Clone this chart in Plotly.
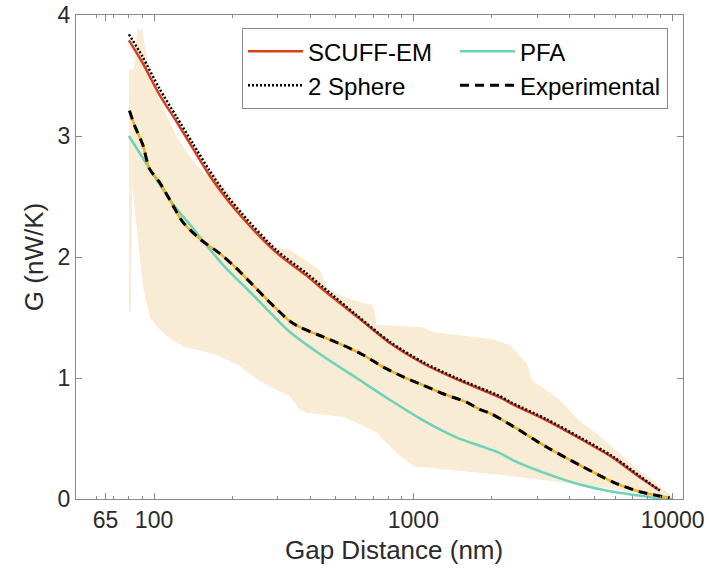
import plotly.graph_objects as go

# ---- data (Gap distance in nm, G in nW/K) ----
scuff_x = [80, 90, 105, 122, 141, 163, 189, 220, 295, 385, 449, 604, 811, 1091, 1466, 2154, 2427, 3262, 4385, 5893, 7460, 8920]
scuff_g = [3.79, 3.61, 3.34, 3.12, 2.90, 2.68, 2.49, 2.32, 2.04, 1.85, 1.73, 1.51, 1.29, 1.12, 0.99, 0.84, 0.78, 0.65, 0.50, 0.34, 0.18, 0.07]

sphere_x = [80, 90, 105, 122, 141, 163, 189, 220, 295, 385, 449, 604, 811, 1091, 1466, 2154, 2427, 3262, 4385, 5893, 7460, 8920]
sphere_g = [3.84, 3.66, 3.39, 3.16, 2.94, 2.72, 2.52, 2.35, 2.06, 1.87, 1.75, 1.52, 1.30, 1.13, 1.00, 0.85, 0.79, 0.66, 0.51, 0.35, 0.19, 0.07]

pfa_x = [80, 90.4, 105, 122, 141, 163, 189, 220, 240, 334, 449, 604, 811, 1091, 1466, 1803, 2154, 2427, 3262, 4385, 5893, 7925, 8920, 10000]
pfa_g = [3.00, 2.82, 2.60, 2.40, 2.24, 2.07, 1.91, 1.77, 1.69, 1.38, 1.18, 1.00, 0.82, 0.65, 0.51, 0.44, 0.38, 0.32, 0.21, 0.12, 0.06, 0.02, 0.005, 0.0]

exp_x = [80.4, 84, 90.4, 96, 104.8, 118, 129, 150, 179, 207, 240, 278, 334, 365, 449, 537, 641, 766, 914, 1092, 1303, 1603, 1803, 1972, 2427, 3262, 4385, 5893, 7460, 9733]
exp_g = [3.21, 3.09, 2.93, 2.73, 2.62, 2.43, 2.29, 2.15, 2.03, 1.91, 1.77, 1.63, 1.47, 1.42, 1.34, 1.27, 1.19, 1.09, 1.01, 0.94, 0.87, 0.80, 0.74, 0.71, 0.60, 0.43, 0.28, 0.14, 0.06, 0.01]

band_up_x = [80, 83.7, 86, 90, 96.5, 105, 121.6, 141, 157, 165, 207, 234, 295, 334, 437, 463, 536, 700, 723, 1090, 1190, 2030, 2360, 2740, 2880, 3570, 3900, 4380, 4900, 5890, 6860, 7925, 8920, 10000]
band_up_g = [3.55, 3.55, 3.88, 3.88, 3.50, 3.30, 3.00, 2.80, 2.68, 2.72, 2.45, 2.28, 2.08, 2.06, 1.89, 1.75, 1.67, 1.60, 1.44, 1.42, 1.38, 1.32, 1.27, 1.12, 0.98, 0.84, 0.76, 0.64, 0.57, 0.42, 0.30, 0.19, 0.10, 0.02]

band_lo_x = [80, 81.5, 82.3, 90.7, 96.5, 105, 118, 134, 150, 180, 214, 245, 280, 334, 365, 388, 536, 620, 723, 790, 887, 1000, 2150, 5200, 9500, 10000]
band_lo_g = [1.55, 1.55, 2.60, 1.75, 1.50, 1.40, 1.31, 1.25, 1.23, 1.18, 1.10, 1.00, 0.93, 0.85, 0.74, 0.71, 0.68, 0.62, 0.55, 0.46, 0.36, 0.27, 0.20, 0.10, 0.01, 0.0]

x_tickvals = [65, 100, 1000, 10000]
x_ticktext = ["65", "100", "1000", "10000"]
x_minor = [60, 70, 80, 90, 200, 300, 400, 500, 600, 700, 800, 900,
           2000, 3000, 4000, 5000, 6000, 7000, 8000, 9000]
y_tickvals = [0, 1, 2, 3, 4]
x_title = "Gap Distance (nm)"
y_title = "G (nW/K)"

# ---- styles ----
RED = "rgb(214,62,28)"
TEAL = "rgb(108,210,185)"
GOLD = "rgb(237,177,32)"
BAND = "rgb(249,236,212)"
AXIS = "#8a8a8a"
TXT = "#2b2b2b"
FONT = "Liberation Sans, Arial, sans-serif"
SM = 0.8

fig = go.Figure()

fig.add_trace(go.Scatter(
    x=band_up_x + band_lo_x[::-1], y=band_up_g + band_lo_g[::-1],
    fill="toself", fillcolor=BAND, line=dict(width=0), mode="lines",
    showlegend=False, hoverinfo="skip"))

fig.add_trace(go.Scatter(x=pfa_x, y=pfa_g, mode="lines", name="PFA",
                         line=dict(color=TEAL, width=2.5, shape="spline", smoothing=SM), legendrank=2))
fig.add_trace(go.Scatter(x=exp_x, y=exp_g, mode="lines", showlegend=False,
                         line=dict(color=GOLD, width=2.5, shape="spline", smoothing=SM), hoverinfo="skip"))
fig.add_trace(go.Scatter(x=exp_x, y=exp_g, mode="lines", name="Experimental",
                         line=dict(color="black", width=3, dash="9px,6px", shape="spline", smoothing=SM),
                         legendrank=4))
fig.add_trace(go.Scatter(x=scuff_x, y=scuff_g, mode="lines", name="SCUFF-EM",
                         line=dict(color=RED, width=2.5, shape="spline", smoothing=SM), legendrank=1))
fig.add_trace(go.Scatter(x=sphere_x, y=sphere_g, mode="lines", name="2 Sphere",
                         line=dict(color="black", width=2.5, dash="2px,2px", shape="spline", smoothing=SM),
                         legendrank=3))

fig.update_layout(
    width=709, height=571,
    margin=dict(l=76, r=26, t=15, b=72, autoexpand=False),
    paper_bgcolor="white", plot_bgcolor="white",
    font=dict(family=FONT, size=24, color=TXT),
    legend=dict(
        orientation="h", x=0.9753, y=0.973, xanchor="right", yanchor="top",
        bgcolor="white", bordercolor=AXIS, borderwidth=1,
        entrywidth=142, entrywidthmode="pixels",
        font=dict(family=FONT, size=24, color="black"),
        traceorder="normal", tracegroupgap=0, itemwidth=55),
    annotations=[dict(text=x_title, xref="paper", yref="paper", x=0.524, y=-0.105,
                      xanchor="center", yanchor="middle", showarrow=False,
                      font=dict(family=FONT, size=26, color=TXT))],
)

fig.update_xaxes(
    type="log", range=[1.699, 4.04],
    tickvals=x_tickvals, ticktext=x_ticktext,
    ticks="inside", ticklen=6, tickcolor=AXIS, tickwidth=1,
    minor=dict(tickvals=x_minor, ticks="inside", ticklen=3, tickcolor=AXIS),
    showline=True, linecolor=AXIS, linewidth=1, mirror="allticks",
    showgrid=False, zeroline=False, automargin=False,
    tickfont=dict(size=23, color=TXT),
)
fig.update_yaxes(
    range=[0, 4], tickvals=y_tickvals,
    ticks="inside", ticklen=6, tickcolor=AXIS, tickwidth=1,
    showline=True, linecolor=AXIS, linewidth=1, mirror="allticks",
    showgrid=False, zeroline=False, automargin=False,
    tickfont=dict(size=23, color=TXT),
    title=dict(text=y_title, font=dict(size=26, color=TXT), standoff=6),
)

fig.write_html("out.html")
